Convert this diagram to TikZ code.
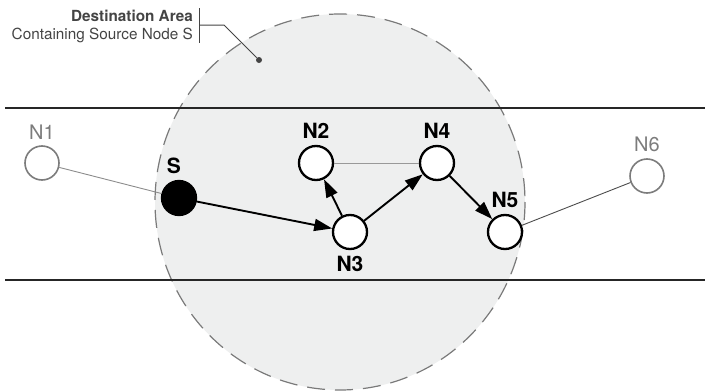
\documentclass[tikz,border=0pt]{standalone}
\usepackage{fontspec}
\setmainfont{TeX Gyre Heros}
\usetikzlibrary{arrows.meta}
\definecolor{areafill}{HTML}{EEEFEF}
\definecolor{areaedge}{HTML}{7A7A7A}
\definecolor{idlegray}{HTML}{7C7C7C}
\definecolor{notegray}{HTML}{444444}
\begin{document}
\begin{tikzpicture}[x=1pt, y=-1pt, label distance=5pt,
                    arrow/.style = {line width=1.9pt, -{Triangle[length=18pt,width=12pt]}},
                    hop/.style   = {circle, draw, line width=2.3pt, fill=white, minimum size=34pt, inner sep=0pt},
                    idle/.style  = {hop, draw=idlegray, line width=1.6pt},
                    tag/.style   = {font=\fontsize{21}{21}\selectfont\bfseries, inner sep=1pt},
                    idletag/.style = {tag, font=\fontsize{20}{20}\selectfont, text=idlegray},
                    link/.style  = {line width=0.9pt}]
                    \useasboundingbox (0,0) rectangle (705,391);

                    % destination area and the band
                    \draw[areaedge, line width=1.2pt, dash pattern=on 18pt off 10pt, fill=areafill]
                        (340,202) ellipse [x radius=185, y radius=188];
                    \draw[line width=1.3pt, black!85] (5,108) -- (705,108);
                    \draw[line width=1.3pt, black!85] (5,280) -- (705,280);

                    \node[idle] (n1) at (42,163)  [label={[idletag]above:N1}] {};
                    \node[hop, fill=black] (s) at (179,198) [label={[tag, xshift=-5pt]above:S}] {};
                    \node[hop] (n2) at (316,163)  [label={[tag]above:N2}] {};
                    \node[hop] (n3) at (350,232)  [label={[tag]below:N3}] {};
                    \node[hop] (n4) at (437,163)  [label={[tag]above:N4}] {};
                    \node[hop] (n5) at (505,232)  [label={[tag]above:N5}] {};
                    \node[idle] (n6) at (647,176) [label={[idletag]above:N6}] {};

                    \draw[link, black!45] (n1) -- (s);
                    \draw[link, black!40] (n2) -- (n4);
                    \draw[link, black!70] (n5) -- (n6);
                    \draw[arrow] (s)  -- (n3);
                    \draw[arrow] (n3) -- (n2);
                    \draw[arrow] (n3) -- (n4);
                    \draw[arrow] (n4) -- (n5);

                    % callout
                    \node[anchor=east, align=right, text=notegray, inner sep=0pt,
                          font=\fontsize{15.3}{18}\selectfont] (note) at (193,26)
                        {\textbf{Destination Area}\\Containing Source Node S};
                    \draw[notegray, line width=1pt] (199,8) -- (199,43);
                    \coordinate (bend) at (224,25);
                    \node[circle, fill=notegray, inner sep=0pt, minimum size=6pt] (dot) at (259,60) {};
                    \draw[notegray, line width=1pt] (199,25) -- (bend) -- (dot);
\end{tikzpicture}
\end{document}
